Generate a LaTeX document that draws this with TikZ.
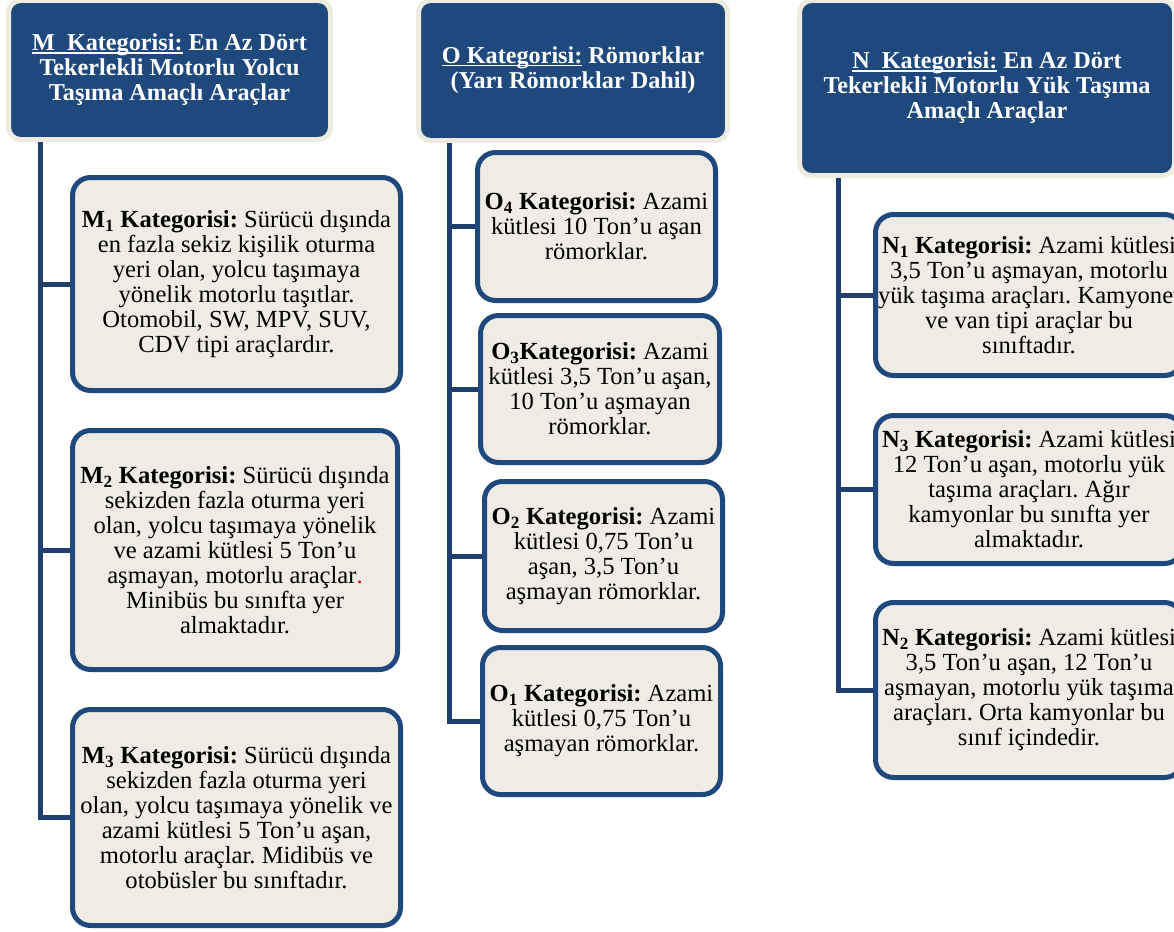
\documentclass[tikz,border=0pt]{standalone}
\usepackage{fontspec}
\setmainfont{Liberation Serif}
\definecolor{hblue}{HTML}{1F497D}
\definecolor{hcream}{HTML}{EEECE1}
\definecolor{bfill}{HTML}{EEECE4}
\definecolor{bblue}{HTML}{1F497D}
\definecolor{lblue}{HTML}{1F3F6E}
\newcommand{\myul}[1]{\setbox0\hbox{#1}\rlap{\rule[-2.6pt]{\wd0}{1.4pt}}\box0\relax}
\tikzset{
  hdr/.style={rectangle, rounded corners=12pt, fill=hblue, draw=hcream, line width=5pt,
    text=white, font=\frenchspacing\bfseries\fontsize{24.2}{25}\selectfont, align=center, inner sep=0pt},
  catbox/.style={rectangle, rounded corners=18pt, fill=bfill, draw=bblue, line width=5pt,
    font=\frenchspacing\fontsize{24.6}{25}\selectfont, align=center, inner sep=0pt},
  conn/.style={draw=lblue, line width=5pt},
}
\begin{document}
\begin{tikzpicture}[x=1pt,y=-1pt]
\useasboundingbox (0,0) rectangle (1174,931);
\clip (0,0) rectangle (1174,931);
\coordinate (Mx) at (40,0);
\coordinate (Ox) at (449,0);
\coordinate (Nx) at (838,0);
% headers
\node[hdr, minimum width=322pt, minimum height=139pt] (Mh) at (169.5,70)
  {\myul{M\ \ Kategorisi:} En Az Dört\\Tekerlekli Motorlu Yolcu\\Taşıma Amaçlı Araçlar};
\node[hdr, minimum width=309pt, minimum height=140pt] (Oh) at (573,70.5)
  {\myul{O Kategorisi:} Römorklar\\(Yarı Römorklar Dahil)};
\node[hdr, minimum width=375pt, minimum height=175pt] (Nh) at (987,88)
  {\myul{N\ \ Kategorisi:} En Az Dört\\Tekerlekli Motorlu Yük Taşıma\\Amaçlı Araçlar};
% boxes
\node[catbox, minimum width=328pt, minimum height=213pt] (M1) at (236.5,284)
  {\textbf{M\textsubscript{1} Kategorisi:} Sürücü dışında\\en fazla sekiz kişilik oturma\\yeri olan, yolcu taşımaya\\yönelik motorlu taşıtlar.\\Otomobil, SW, MPV, SUV,\\CDV tipi araçlardır.};
\node[catbox, minimum width=325pt, minimum height=239pt] (M2) at (235,550)
  {\textbf{M\textsubscript{2} Kategorisi:} Sürücü dışında\\sekizden fazla oturma yeri\\olan, yolcu taşımaya yönelik\\ve azami kütlesi 5 Ton’u\\aşmayan, motorlu araçlar\textcolor{red}{.}\\Minibüs bu sınıfta yer\\almaktadır.};
\node[catbox, minimum width=328pt, minimum height=216pt] (M3) at (236.5,817.5)
  {\textbf{M\textsubscript{3} Kategorisi:} Sürücü dışında\\sekizden fazla oturma yeri\\olan, yolcu taşımaya yönelik ve\\azami kütlesi 5 Ton’u aşan,\\motorlu araçlar. Midibüs ve\\otobüsler bu sınıftadır.};
\node[catbox, minimum width=238pt, minimum height=148pt] (O4) at (596.5,226.5)
  {\textbf{O\textsubscript{4} Kategorisi:} Azami\\kütlesi 10 Ton’u aşan\\römorklar.};
\node[catbox, minimum width=239pt, minimum height=147pt] (O3) at (600,389)
  {\textbf{O\textsubscript{3}Kategorisi:} Azami\\kütlesi 3,5 Ton’u aşan,\\10 Ton’u aşmayan\\römorklar.};
\node[catbox, minimum width=238pt, minimum height=149pt] (O2) at (603.5,556)
  {\textbf{O\textsubscript{2} Kategorisi:} Azami\\kütlesi 0,75 Ton’u\\aşan, 3,5 Ton’u\\aşmayan römorklar.};
\node[catbox, minimum width=238pt, minimum height=147pt] (O1) at (601.5,721)
  {\textbf{O\textsubscript{1} Kategorisi:} Azami\\kütlesi 0,75 Ton’u\\aşmayan römorklar.};
\node[catbox, minimum width=307pt, minimum height=161pt] (N1) at (1029,295)
  {\textbf{N\textsubscript{1} Kategorisi:} Azami kütlesi\\3,5 Ton’u aşmayan, motorlu\\yük taşıma araçları. Kamyonet\\ve van tipi araçlar bu\\sınıftadır.};
\node[catbox, minimum width=307pt, minimum height=148pt] (N3) at (1029,489.5)
  {\textbf{N\textsubscript{3} Kategorisi:} Azami kütlesi\\12 Ton’u aşan, motorlu yük\\taşıma araçları. Ağır\\kamyonlar bu sınıfta yer\\almaktadır.};
\node[catbox, minimum width=307pt, minimum height=175pt] (N2) at (1029,690)
  {\textbf{N\textsubscript{2} Kategorisi:} Azami kütlesi\\3,5 Ton’u aşan, 12 Ton’u\\aşmayan, motorlu yük taşıma\\araçları. Orta kamyonlar bu\\sınıf içindedir.};
% connectors
\draw[conn] (Mh.south -| Mx) |- (M3.west);
\draw[conn] (M1.west -| Mx) -- (M1.west);
\draw[conn] (M2.west -| Mx) -- (M2.west);
\draw[conn] (Oh.south -| Ox) |- (O1.west);
\draw[conn] (O4.west -| Ox) -- (O4.west);
\draw[conn] (O3.west -| Ox) -- (O3.west);
\draw[conn] (O2.west -| Ox) -- (O2.west);
\draw[conn] (Nh.south -| Nx) |- (N2.west);
\draw[conn] (N1.west -| Nx) -- (N1.west);
\draw[conn] (N3.west -| Nx) -- (N3.west);
\end{tikzpicture}
\end{document}
